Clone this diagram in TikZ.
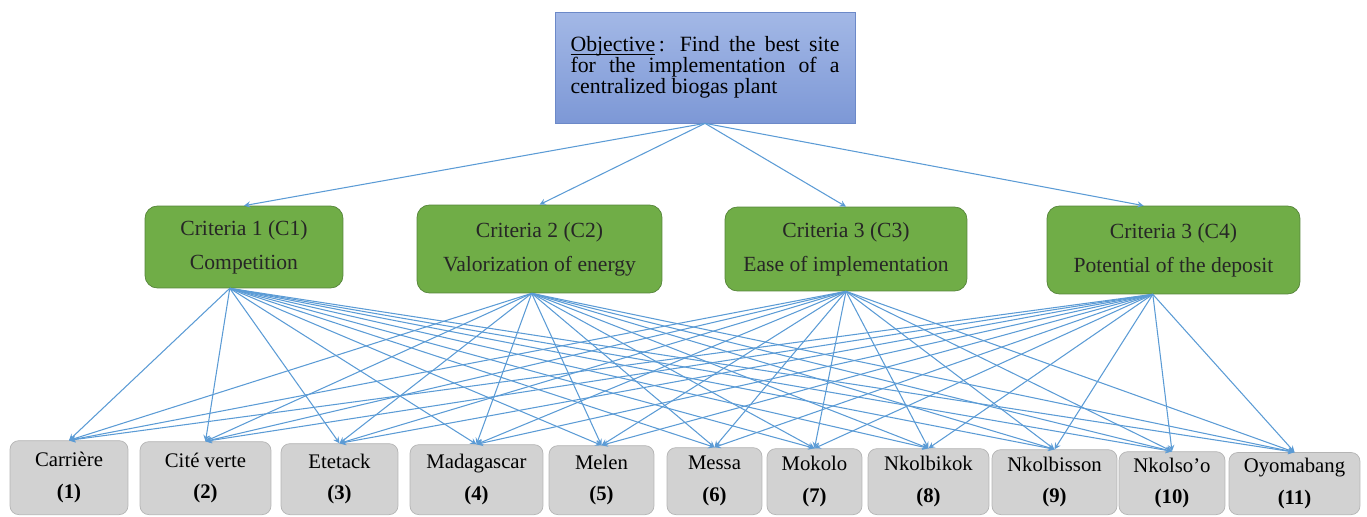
\documentclass[tikz,border=0pt]{standalone}
\usepackage{fontspec}
\setmainfont{Liberation Serif}
\newfontfamily\timesfont[Ligatures=TeX]{Liberation Serif}
\usepackage{xcolor}
\usepackage{tikz}
\usetikzlibrary{shapes.geometric, arrows}
\definecolor{objtop}{HTML}{A3B8E6}
\definecolor{objbot}{HTML}{7D98D6}
\definecolor{objline}{HTML}{6C89C8}
\definecolor{critfill}{HTML}{70AD47}
\definecolor{critline}{HTML}{55843A}
\definecolor{sitefill}{HTML}{D2D2D2}
\definecolor{siteline}{HTML}{B4B4B4}
\definecolor{linkblue}{HTML}{5B9BD5}
\tikzstyle{objbox} = [draw=objline, top color=objtop, bottom color=objbot, text width=5.38cm, align=justify, inner xsep=0.31cm, minimum width=6cm, minimum height=2.22cm, font={\timesfont\fontsize{12.4}{12}\selectfont\lineskiplimit=-6pt}]
\tikzstyle{critbox} = [draw=critline, fill=critfill, rounded corners=7pt, align=center, text=black!85, font=\timesfont\fontsize{12.3}{14.5}\selectfont]
\tikzstyle{sitebox} = [draw=siteline, fill=sitefill, rounded corners=5pt, align=center, anchor=south, font=\timesfont\fontsize{11.8}{14}\selectfont]
\tikzstyle{arrow} = [draw=linkblue, line width=0.6pt, ->, >=stealth]

\begin{document}
\begin{tikzpicture}[x=0.02cm, y=-0.02cm]
            \useasboundingbox (0,0) rectangle (1367,517);
            \node[objbox] (obj) at (705,67.5) {\underline{\smash{Objective}}\,: Find the best site\linebreak for the implementation of a\linebreak centralized biogas plant};
            \node[critbox, minimum width=3.96cm, minimum height=1.64cm] (c1) at (244,247) {Criteria 1 (C1)\\[5pt]Competition};
            \node[critbox, minimum width=4.90cm, minimum height=1.76cm] (c2) at (539.5,249) {Criteria 2 (C2)\\[5pt]Valorization of energy};
            \node[critbox, minimum width=4.84cm, minimum height=1.68cm] (c3) at (846,249) {Criteria 3 (C3)\\[5pt]Ease of implementation};
            \node[critbox, minimum width=5.06cm, minimum height=1.76cm] (c4) at (1173.5,250) {Criteria 3 (C4)\\[5pt]Potential of the deposit};
            \node[sitebox, minimum width=2.36cm, minimum height=1.48cm] (s1) at (69,515) {Carrière\\[4pt]\textbf{(1)}};
            \node[sitebox, minimum width=2.62cm, minimum height=1.46cm] (s2) at (205.5,515) {Cité verte\\[4pt]\textbf{(2)}};
            \node[sitebox, minimum width=2.34cm, minimum height=1.42cm] (s3) at (339.5,515) {Etetack\\[4pt]\textbf{(3)}};
            \node[sitebox, minimum width=2.66cm, minimum height=1.40cm] (s4) at (476.5,515) {Madagascar\\[4pt]\textbf{(4)}};
            \node[sitebox, minimum width=2.10cm, minimum height=1.38cm] (s5) at (601.5,515) {Melen\\[4pt]\textbf{(5)}};
            \node[sitebox, minimum width=1.90cm, minimum height=1.34cm] (s6) at (714.5,515) {Messa\\[4pt]\textbf{(6)}};
            \node[sitebox, minimum width=1.90cm, minimum height=1.32cm] (s7) at (814.5,515) {Mokolo\\[4pt]\textbf{(7)}};
            \node[sitebox, minimum width=2.42cm, minimum height=1.32cm] (s8) at (928.5,515) {Nkolbikok\\[4pt]\textbf{(8)}};
            \node[sitebox, minimum width=2.50cm, minimum height=1.30cm] (s9) at (1054.5,515) {Nkolbisson\\[4pt]\textbf{(9)}};
            \node[sitebox, minimum width=2.12cm, minimum height=1.26cm] (s10) at (1172,515) {Nkolso'o\\[4pt]\textbf{(10)}};
            \node[sitebox, minimum width=2.62cm, minimum height=1.24cm] (s11) at (1294.5,515) {Oyomabang\\[4pt]\textbf{(11)}};
            \foreach \c/\a in {c1/north, c2/north, c3/north, c4/124}
                \draw[arrow] (obj.south) -- (\c.\a);
            \foreach \c/\a in {c1/-109, c2/-100, c3/south, c4/-115}
                \foreach \i in {1,...,11}
                    \draw[arrow] (\c.\a) -- (s\i.north);
        \end{tikzpicture}
\end{document}
